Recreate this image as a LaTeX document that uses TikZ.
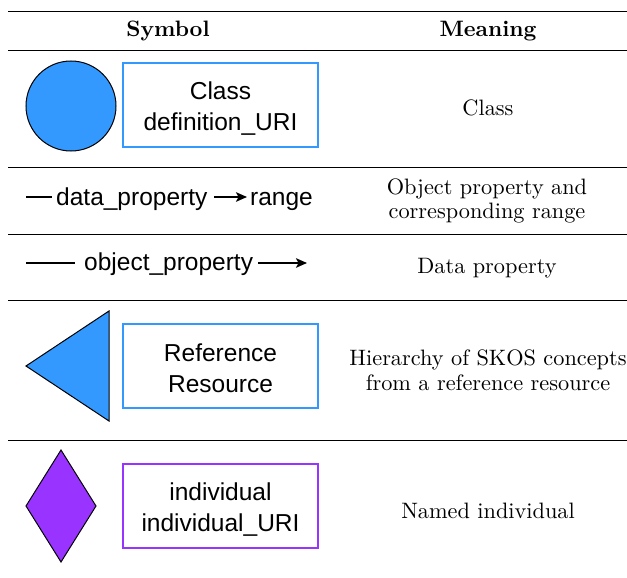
\documentclass[tikz,border=0pt]{standalone}
\usepackage{fontspec}
\newfontfamily\sansf{Liberation Sans}
\usetikzlibrary{arrows.meta}
\definecolor{clsblue}{HTML}{3399FF}
\definecolor{indpurple}{HTML}{9933FF}
\newcommand\boxstrut{\rule[-3pt]{0pt}{27pt}}
\begin{document}
\begin{tikzpicture}[x=1pt,y=-1pt,
  rulethin/.style={line width=1.1pt},
  rulethick/.style={line width=1.9pt},
  serif/.style={scale=2.23, inner sep=0, align=center, font=\fontsize{10}{11}\selectfont},
  hdr/.style={scale=2.23, inner sep=0, align=center, font=\fontsize{10}{11}\selectfont\bfseries},
  sans/.style={inner sep=0, font=\sansf\fontsize{24.5}{31}\selectfont},
  labelbox/.style={draw, line width=1.2pt, minimum width=195pt, minimum height=84pt, inner sep=0, align=center, font=\sansf\fontsize{24.5}{31}\selectfont},
  shapefill/.style={draw=black, line width=1pt},
  conn/.style={line width=1.8pt},
  arr/.style={conn, -{Stealth[length=11pt,width=9.5pt,inset=2.5pt]}}
]
\useasboundingbox (0,0) rectangle (627,578);
% table rules
\draw[rulethick] (8,11.5) -- (627,11.5);
\draw[rulethin] (8,50.5) -- (627,50.5);
\draw[rulethin] (8,167.5) -- (627,167.5);
\draw[rulethin] (8,234.5) -- (627,234.5);
\draw[rulethin] (8,300.5) -- (627,300.5);
\draw[rulethin] (8,440.5) -- (627,440.5);
% header
\node[hdr] (hsym) at (168,31) {Symbol};
\node[hdr] (hmean) at (488,31) {Meaning};
% row 1: class
\node[shapefill, fill=clsblue, circle, minimum size=90pt, inner sep=0] (cls) at (71,106) {};
\node[labelbox, draw=clsblue] (clsbox) at (220.5,105) {\boxstrut Class\\\boxstrut definition\_URI};
\node[serif] (m1) at (488,108) {Class};
% row 2: data property
\node[sans, anchor=base west] (dp) at (56,205) {data\_property};
\node[sans, anchor=base west] (rng) at (250,205) {range};
\coordinate (dpstart) at (26,197);
\coordinate (dpl) at (52,197);
\coordinate (dpa1) at (214,197);
\coordinate (dpa2) at (247,197);
\draw[conn] (dpstart) -- (dpl);
\draw[arr] (dpa1) -- (dpa2);
\node[serif] (m2) at (487,201) {Object property and\\corresponding range};
% row 3: object property
\node[sans, anchor=base west] (op) at (84,270) {object\_property};
\coordinate (opstart) at (26,263);
\coordinate (opl) at (75,263);
\coordinate (opa1) at (258,263);
\coordinate (opa2) at (307,263);
\draw[conn] (opstart) -- (opl);
\draw[arr] (opa1) -- (opa2);
\node[serif] (m3) at (487,268) {Data property};
% row 4: reference resource
\draw[shapefill, fill=clsblue] (26,366) -- (109,311) -- (109,421) -- cycle;
\node[labelbox, draw=clsblue] (refbox) at (220.5,366) {\boxstrut Reference\\\boxstrut Resource};
\node[serif] (m4) at (488,370) {Hierarchy of SKOS concepts\\from a reference resource};
% row 5: named individual
\draw[shapefill, fill=indpurple] (61,450) -- (96,506) -- (61,562) -- (26,506) -- cycle;
\node[labelbox, draw=indpurple] (indbox) at (220.5,506) {\boxstrut individual\\\boxstrut individual\_URI};
\node[serif] (m5) at (488,511) {Named individual};
\end{tikzpicture}
\end{document}
